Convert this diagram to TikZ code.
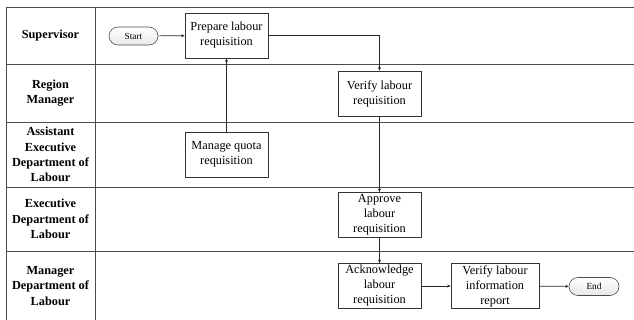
\documentclass[tikz,border=0pt]{standalone}
\usepackage{fontspec}
\setmainfont{Liberation Serif}
\usetikzlibrary{arrows.meta,shapes.misc}
\begin{document}
\begin{tikzpicture}[x=1pt,y=-1pt,
  lane/.style={draw=black!70,line width=0.9pt},
  lanelabel/.style={font=\fontsize{12.3}{15.3}\selectfont\bfseries,align=center,inner sep=0pt},
  proc/.style={draw=black!80,line width=0.8pt,minimum width=83pt,minimum height=45pt,inner sep=1pt,
    align=center,font=\fontsize{12.3}{15}\selectfont},
  term/.style={draw=black!70,line width=0.6pt,rounded rectangle,top color=white,bottom color=gray!18,
    minimum height=18pt,inner sep=1pt,font=\fontsize{9.3}{11}\selectfont},
  conn/.style={draw=black!85,line width=0.7pt,-{Stealth[length=3.5pt,width=3pt]}}]
\useasboundingbox (0,0) rectangle (634,320);
% lanes
\draw[lane] (634,7) -- (6,7) -- (6,320);
\draw[lane] (95,7) -- (95,320);
\draw[lane] (6,64) -- (634,64);
\draw[lane] (6,122) -- (634,122);
\draw[lane] (6,187) -- (634,187);
\draw[lane] (6,251) -- (634,251);
% lane labels
\node[lanelabel] (l1) at (50.5,35.5) {Supervisor};
\node[lanelabel] (l2) at (50.5,93) {Region\\Manager};
\node[lanelabel] (l3) at (50.5,154.5) {Assistant\\Executive\\Department of\\Labour};
\node[lanelabel] (l4) at (50.5,219) {Executive\\Department of\\Labour};
\node[lanelabel] (l5) at (50.5,286) {Manager\\Department of\\Labour};
% nodes
\node[term,minimum width=51pt] (start) at (133.5,36) {Start};
\node[proc] (prepare) at (226.5,35.5) {Prepare labour\\requisition};
\node[proc] (verify) at (379.5,93.5) {Verify labour\\requisition};
\node[proc] (manage) at (226.5,154.5) {Manage quota\\requisition};
\node[proc] (approve) at (379.5,215) {Approve\\labour\\requisition};
\node[proc] (ack) at (379.5,286) {Acknowledge\\labour\\requisition};
\node[proc,minimum width=88pt] (vlir) at (495,286) {Verify labour\\information\\report};
\node[term,minimum width=52pt] (end) at (594,286.5) {End};
% connectors
\draw[conn] (start) -- (prepare);
\draw[conn] (prepare.east) -| (verify.north);
\draw[conn] (manage) -- (prepare);
\draw[conn] (verify) -- (approve);
\draw[conn] (approve) -- (ack);
\draw[conn] (ack) -- (vlir);
\draw[conn] (vlir) -- (end);
\end{tikzpicture}
\end{document}
